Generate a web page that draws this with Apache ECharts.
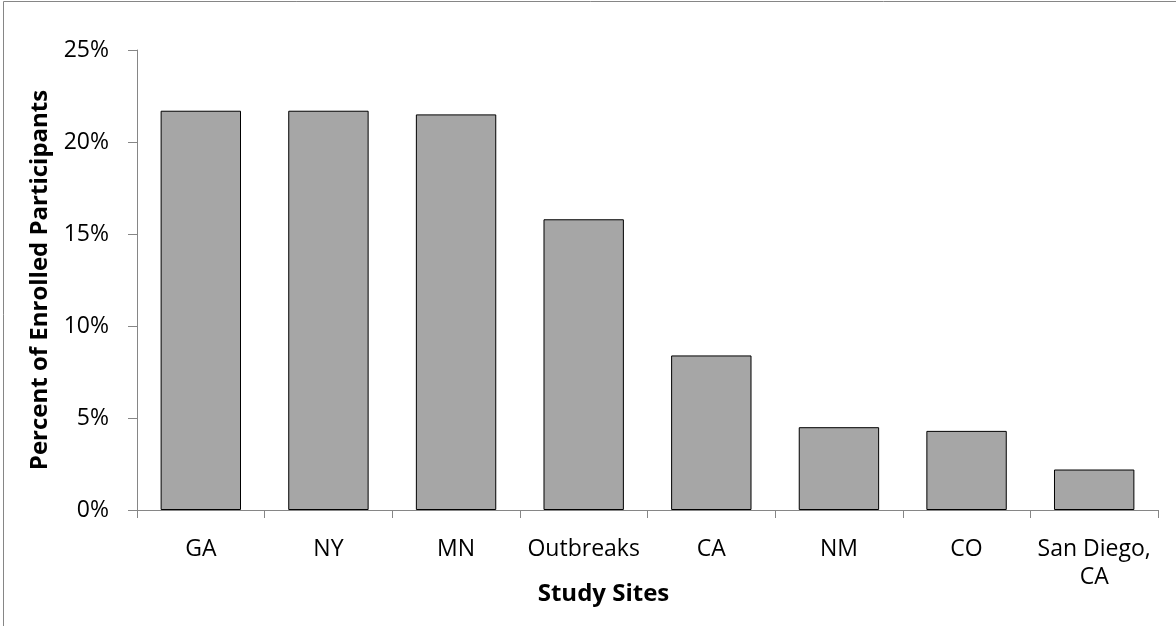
<!DOCTYPE html>
<html>
<head>
<meta charset="utf-8">
<script src="https://cdn.jsdelivr.net/npm/echarts@6/dist/echarts.min.js"></script>
<style>
html,body{margin:0;padding:0;background:#fff;}
#c{width:1176px;height:626px;}
</style>
</head>
<body>
<div id="c"></div>
<script>
const categories = ['GA', 'NY', 'MN', 'Outbreaks', 'CA', 'NM', 'CO', 'San Diego,\nCA'];
const percentValues = [21.7, 21.7, 21.5, 15.8, 8.4, 4.5, 4.3, 2.2];
const yTicks = [0, 5, 10, 15, 20, 25];

const FONT = 'Open Sans';
const chart = echarts.init(document.getElementById('c'));
chart.setOption({
  backgroundColor: '#fff',
  animation: false,
  graphic: [{
    type: 'rect',
    shape: { x: 3.5, y: 1.5, width: 1200, height: 700 },
    style: { fill: 'none', stroke: '#868686', lineWidth: 1 },
    silent: true
  }],
  grid: { left: 137, right: 18, top: 50, bottom: 116 },
  xAxis: {
    type: 'category',
    data: categories,
    name: 'Study Sites',
    nameLocation: 'middle',
    nameGap: 72,
    nameMoveOverlap: false,
    nameTextStyle: { fontFamily: FONT, fontSize: 24, fontWeight: 'bold', color: '#000', padding: [0, 88, 0, 0] },
    axisLine: { lineStyle: { color: '#868686', width: 1 } },
    axisTick: { show: true, length: 8, lineStyle: { color: '#868686' }, alignWithLabel: false },
    axisLabel: { fontFamily: FONT, fontSize: 23, color: '#000', margin: 25, lineHeight: 28, interval: 0 }
  },
  yAxis: {
    type: 'value',
    min: 0, max: 25, interval: 5,
    name: 'Percent of Enrolled Participants',
    nameLocation: 'middle',
    nameGap: 85,
    nameMoveOverlap: false,
    nameRotate: 90,
    nameTextStyle: { fontFamily: FONT, fontSize: 24, fontWeight: 'bold', color: '#000' },
    splitLine: { show: false },
    axisLine: { show: true, lineStyle: { color: '#868686', width: 1 } },
    axisTick: { show: true, length: 9, lineStyle: { color: '#868686' } },
    axisLabel: {
      fontFamily: FONT, fontSize: 23, color: '#000', margin: 28,
      formatter: v => yTicks.includes(v) ? v + '%' : ''
    }
  },
  series: [{
    type: 'bar',
    data: percentValues,
    barCategoryGap: '37%',
    itemStyle: { color: '#a6a6a6', borderColor: '#000', borderWidth: 1 }
  }]
});
</script>
</body>
</html>
